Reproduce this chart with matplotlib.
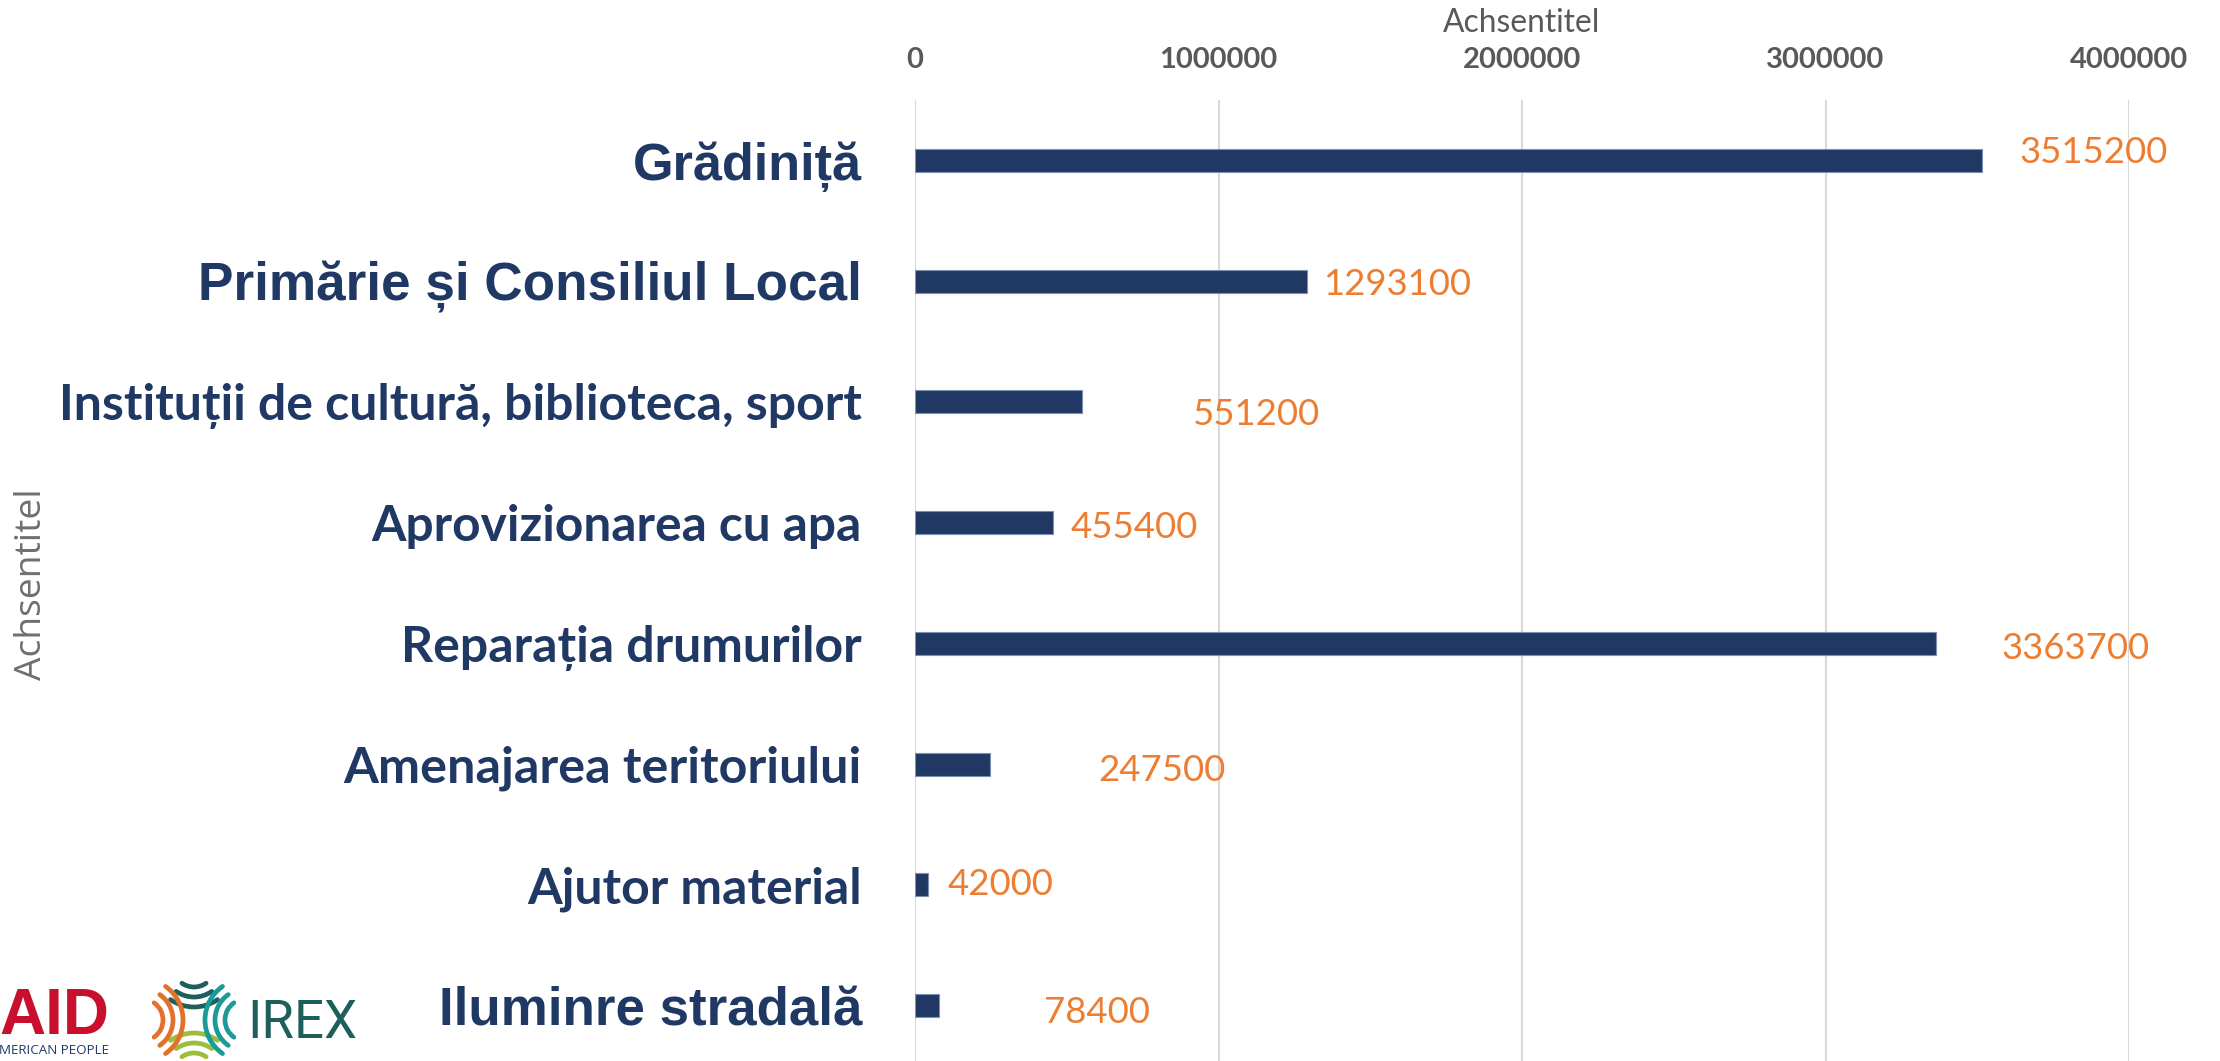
import matplotlib
matplotlib.use("Agg")
import matplotlib.pyplot as plt
from matplotlib.patches import Arc

categories = ["Grădiniță", "Primărie și Consiliul Local",
              "Instituții de cultură, biblioteca, sport",
              "Aprovizionarea cu apa", "Reparația drumurilor",
              "Amenajarea teritoriului", "Ajutor material", "Iluminre stradală"]
values = [3515200, 1293100, 551200, 455400, 3363700, 247500, 42000, 78400]
x_ticks = [0, 1000000, 2000000, 3000000, 4000000]
x_tick_labels = ["0", "1000000", "2000000", "3000000", "4000000"]
axis_title = "Achsentitel"

W, H, DPI = 2220, 1061, 100
PT = 72 / DPI

NAVY = "#203864"
ORANGE = "#ED7D31"
GREY = "#595959"

fig = plt.figure(figsize=(W / DPI, H / DPI), dpi=DPI)
fig.patch.set_facecolor("white")

ax_l, ax_r, ax_t, ax_b = 915, 2129, 100, 1066
ax = fig.add_axes([ax_l / W, 1 - ax_b / H, (ax_r - ax_l) / W, (ax_b - ax_t) / H])

ypos = list(range(len(categories)))
ax.barh(ypos, values, height=0.19, color=NAVY, edgecolor="#7F8FAF",
        linewidth=0.8, zorder=3)
ax.set_xlim(0, 4000000)
ax.set_ylim(len(categories) - 0.5, -0.5)
ax.set_xticks(x_ticks)
ax.set_xticklabels(x_tick_labels, fontfamily="Lato", fontweight="bold", fontsize=21)
ax.xaxis.tick_top()
ax.tick_params(axis="x", length=0, pad=19.5, labelcolor=GREY)
ax.set_yticks(ypos)
ax.set_yticklabels(categories)
ax.tick_params(axis="y", length=0, pad=53 * PT)
ax.grid(axis="x", color="#D9D9D9", linewidth=1.5)
ax.set_axisbelow(True)
for s in ax.spines.values():
    s.set_visible(False)

# category label styling
arial_like = {0, 1, 7}
cat_widths = [229, 664, 802, 490, 461, 518, 335, 423]
cat_texts = ax.get_yticklabels()
for i, t in enumerate(cat_texts):
    t.set_fontweight("bold")
    t.set_color(NAVY)
    t.set_fontfamily("Liberation Sans" if i in arial_like else "Lato")
    t.set_fontsize(30)

# value labels
gaps = [38, 16, 111, 17, 66, 108, 20, 105]
dys = [-11, 0, 10, 2, 2, 3, -3, 4]
val_texts = []
for i, v in enumerate(values):
    a = ax.annotate(str(v), xy=(v, i), xytext=(gaps[i] * PT, -dys[i] * PT),
                    textcoords="offset points", ha="left", va="center_baseline",
                    fontfamily="Lato", fontsize=26, color=ORANGE,
                    annotation_clip=False, zorder=4)
    val_texts.append(a)

# axis titles
top_title = fig.text((ax_l + ax_r) / 2 / W, 1 - 23 / H, axis_title, ha="center",
                     va="center", fontfamily="Lato", fontsize=21, color=GREY)
left_title = fig.text(32 / W, 1 - 584 / H, axis_title, ha="center", va="center",
                      rotation=90, fontfamily="Open Sans", fontsize=20, color="#6F6F6F")

# logos
aid = fig.text(-1 / W, 1 - 1034 / H, "AID", ha="left", va="baseline",
               fontfamily="Liberation Sans", fontweight="bold", fontsize=43,
               color="#C8102E")
people = fig.text(-1 / W, 1 - 1054 / H, "MERICAN PEOPLE", ha="left", va="baseline",
                  fontfamily="Open Sans", fontsize=11, color="#1F3A6E")
irex = fig.text(247 / W, 1 - 1038 / H, "IREX", ha="left", va="baseline",
                fontfamily="Roboto", fontweight="normal", fontsize=38, color="#1D5F5B")

iax = fig.add_axes([152 / W, 1 - 1064 / H, 84 / W, 88 / H])
iax.set_xlim(0, 84)
iax.set_ylim(0, 88)
iax.axis("off")
families = [((42, 98), 235, 305, "#1D5F5B"),
            ((42, -10), 55, 125, "#9DBE3C"),
            ((-10, 44), -55, 55, "#E2712B"),
            ((94, 44), 125, 235, "#1A9A98")]
for (cx, cy), t1, t2, col in families:
    for r in (21, 31, 41):
        iax.add_patch(Arc((cx, cy), 2 * r, 2 * r, theta1=t1, theta2=t2,
                          color=col, linewidth=3.4, capstyle="round"))

# fit text widths to reference
tick_texts = ax.get_xticklabels()
for _ in range(2):
    fig.canvas.draw()
    r = fig.canvas.get_renderer()
    for t, w in zip(cat_texts, cat_widths):
        t.set_fontsize(t.get_fontsize() * w / t.get_window_extent(r).width)
    wt = tick_texts[-1].get_window_extent(r).width
    s = tick_texts[-1].get_fontsize() * 118 / wt
    for t in tick_texts:
        t.set_fontsize(s)
    vw = val_texts[2].get_window_extent(r).width
    vs = val_texts[2].get_fontsize() * 127 / vw
    for t in val_texts:
        t.set_fontsize(vs)
    top_title.set_fontsize(top_title.get_fontsize() * 157 / top_title.get_window_extent(r).width)
    left_title.set_fontsize(left_title.get_fontsize() * 192 / left_title.get_window_extent(r).height)
    aid.set_fontsize(aid.get_fontsize() * 110 / aid.get_window_extent(r).width)
    people.set_fontsize(people.get_fontsize() * 111 / people.get_window_extent(r).width)

fig.savefig("out.png", dpi=DPI, facecolor="white")
